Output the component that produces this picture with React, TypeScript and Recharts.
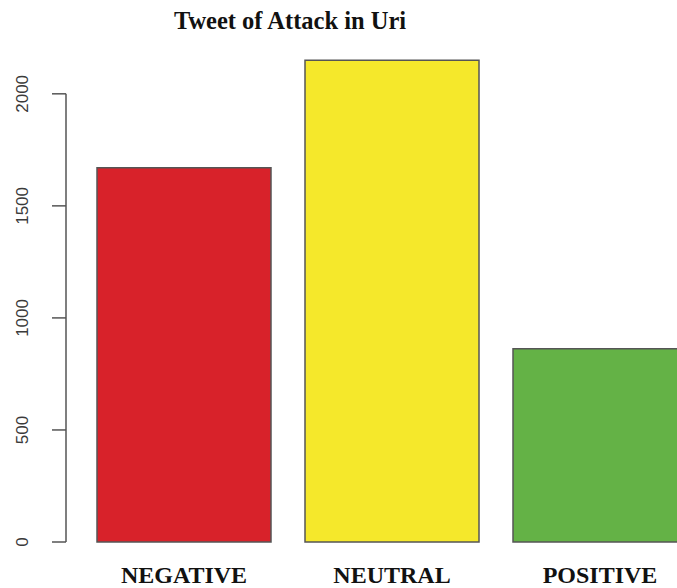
import { BarChart, Bar, XAxis, YAxis, Cell, ReferenceLine } from 'recharts';

const categories = ['NEGATIVE', 'NEUTRAL', 'POSITIVE'];
const tweetCounts = [1670, 2150, 862];
const barColors = ['#D8222A', '#F5E82B', '#64B246'];
const yTicks = [0, 500, 1000, 1500, 2000];

const data = categories.map((name, i) => ({ name, value: tweetCounts[i] }));

const serif = "'Liberation Serif', 'Times New Roman', serif";
const sans = "'Liberation Sans', Arial, sans-serif";

function YTick({ x, y, payload }: any) {
  return (
    <text
      x={x}
      y={y}
      transform={`rotate(-90, ${x}, ${y})`}
      textAnchor="middle"
      fill="#3a3a3a"
      fontSize={17}
      fontFamily={sans}
    >
      {payload.value}
    </text>
  );
}

function XTick({ x, y, payload }: any) {
  return (
    <text
      x={x}
      y={y}
      dy={33}
      textAnchor="middle"
      fill="#111"
      fontSize={24}
      fontWeight="bold"
      fontFamily={serif}
    >
      {payload.value}
    </text>
  );
}

export default function App() {
  return (
    <div
      style={{
        position: 'absolute',
        left: 0,
        top: 0,
        width: 677,
        height: 588,
        overflow: 'hidden',
        background: '#fff'
      }}
    >
      <div
        style={{
          position: 'absolute',
          left: 0,
          top: 9,
          width: 580,
          textAlign: 'center',
          fontFamily: serif,
          fontWeight: 'bold',
          fontSize: 24.5,
          lineHeight: '24.5px',
          color: '#111'
        }}
      >
        Tweet of Attack in Uri
      </div>
      <BarChart
        width={704}
        height={602}
        data={data}
        margin={{ top: 49, right: 0, bottom: 0, left: 0 }}
      >
        <XAxis
          dataKey="name"
          axisLine={false}
          tickLine={false}
          height={60}
          padding={{ left: 14, right: 0 }}
          tick={<XTick />}
          interval={0}
        />
        <XAxis xAxisId="num" type="number" domain={[0, 1]} hide />
        <YAxis
          type="number"
          domain={[0, 2200]}
          ticks={yTicks}
          width={66}
          axisLine={false}
          tickSize={14}
          tickMargin={24}
          tickLine={{ stroke: '#555', strokeWidth: 1.5 }}
          tick={<YTick />}
          interval={0}
        />
        <ReferenceLine
          xAxisId="num"
          segment={[
            { x: 0, y: 0 },
            { x: 0, y: 2000 }
          ]}
          stroke="#555"
          strokeWidth={1.5}
        />
        <Bar
          dataKey="value"
          barSize={174}
          stroke="#555"
          strokeWidth={1.5}
          isAnimationActive={false}
        >
          {data.map((_, i) => (
            <Cell key={`cell-${i}`} fill={barColors[i]} />
          ))}
        </Bar>
      </BarChart>
    </div>
  );
}
